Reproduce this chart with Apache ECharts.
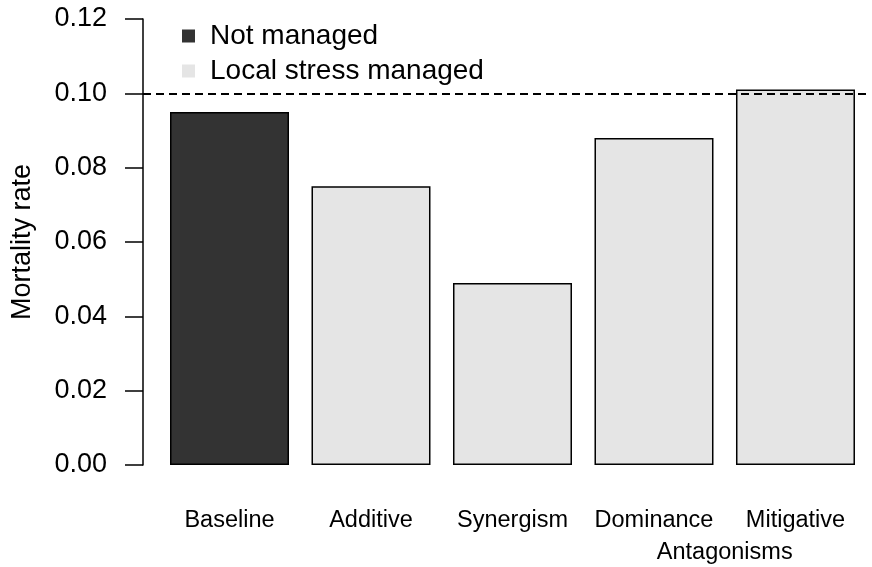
<!DOCTYPE html>
<html>
<head>
<meta charset="utf-8">
<script src="https://cdn.jsdelivr.net/npm/echarts@6/dist/echarts.min.js"></script>
<style>
  html, body { margin: 0; padding: 0; background: #fff; }
  #chart { width: 872px; height: 567px; }
</style>
</head>
<body>
<div id="chart"></div>
<script>
// categories and their bar positions (R barplot style, width 1, space 0.2)
const categories = ['Baseline', 'Additive', 'Synergism', 'Dominance', 'Mitigative'];
const positions = [0.7, 1.9, 3.1, 4.3, 5.5];
const mortality = [0.095, 0.075, 0.049, 0.088, 0.101];
const baselineLevel = 0.095;
const groupLabel = 'Antagonisms';
const groupPosition = 4.9;

const FONT = "'Liberation Sans', Arial, sans-serif";

const notManaged = [[positions[0], mortality[0]]];
const managed = positions.slice(1).map((p, i) => [p, mortality[i + 1]]);

const chart = echarts.init(document.getElementById('chart'));

const option = {
  animation: false,
  backgroundColor: '#fff',
  textStyle: { fontFamily: FONT, color: '#000' },
  grid: { left: 143, right: 6, top: 19, bottom: 102 },
  legend: {
    orient: 'vertical',
    left: 177,
    top: 17,
    icon: 'rect',
    itemWidth: 13,
    itemHeight: 13,
    itemGap: 7,
    selectedMode: false,
    itemStyle: { borderWidth: 0 },
    textStyle: { fontSize: 28, lineHeight: 28, color: '#000', fontFamily: FONT, padding: [0, 0, 0, 10] },
    data: ['Not managed', 'Local stress managed']
  },
  xAxis: [
    {
      type: 'value',
      min: -0.0336,
      max: 6.098,
      axisLine: { show: false },
      axisTick: { show: false },
      splitLine: { show: false },
      axisLabel: {
        customValues: positions,
        margin: 44,
        fontSize: 23.5,
        color: '#000',
        fontFamily: FONT,
        formatter: v => {
          const i = positions.findIndex(p => Math.abs(p - v) < 1e-6);
          return i >= 0 ? categories[i] : '';
        }
      }
    },
    {
      type: 'value',
      position: 'bottom',
      min: -0.0336,
      max: 6.098,
      axisLine: { show: false },
      axisTick: { show: false },
      splitLine: { show: false },
      axisLabel: {
        customValues: [groupPosition],
        margin: 76,
        fontSize: 23.5,
        color: '#000',
        fontFamily: FONT,
        formatter: () => groupLabel
      }
    }
  ],
  yAxis: {
    type: 'value',
    min: 0,
    max: 0.12,
    interval: 0.02,
    name: 'Mortality rate',
    nameLocation: 'middle',
    nameGap: 107,
    nameTextStyle: { fontSize: 27, color: '#000', fontFamily: FONT },
    axisLine: { show: true, onZero: false, lineStyle: { color: '#000', width: 1.5 } },
    axisTick: { show: true, inside: false, length: 18, lineStyle: { color: '#000', width: 1.5 } },
    splitLine: { show: false },
    axisLabel: {
      margin: 36,
      fontSize: 27,
      color: '#000',
      fontFamily: FONT,
      formatter: v => v.toFixed(2)
    }
  },
  series: [
    {
      name: 'Not managed',
      type: 'bar',
      barWidth: 119,
      barGap: '-100%',
      data: notManaged,
      itemStyle: { color: '#333333', borderColor: '#000', borderWidth: 1.5 },
      markLine: {
        silent: true,
        symbol: 'none',
        label: { show: false },
        lineStyle: { color: '#000', width: 1.8, type: [8, 5] },
        data: [{ yAxis: baselineLevel }]
      }
    },
    {
      name: 'Local stress managed',
      type: 'bar',
      barWidth: 119,
      barGap: '-100%',
      data: managed,
      itemStyle: { color: '#e5e5e5', borderColor: '#000', borderWidth: 1.5 }
    }
  ]
};

chart.setOption(option);
</script>
</body>
</html>
